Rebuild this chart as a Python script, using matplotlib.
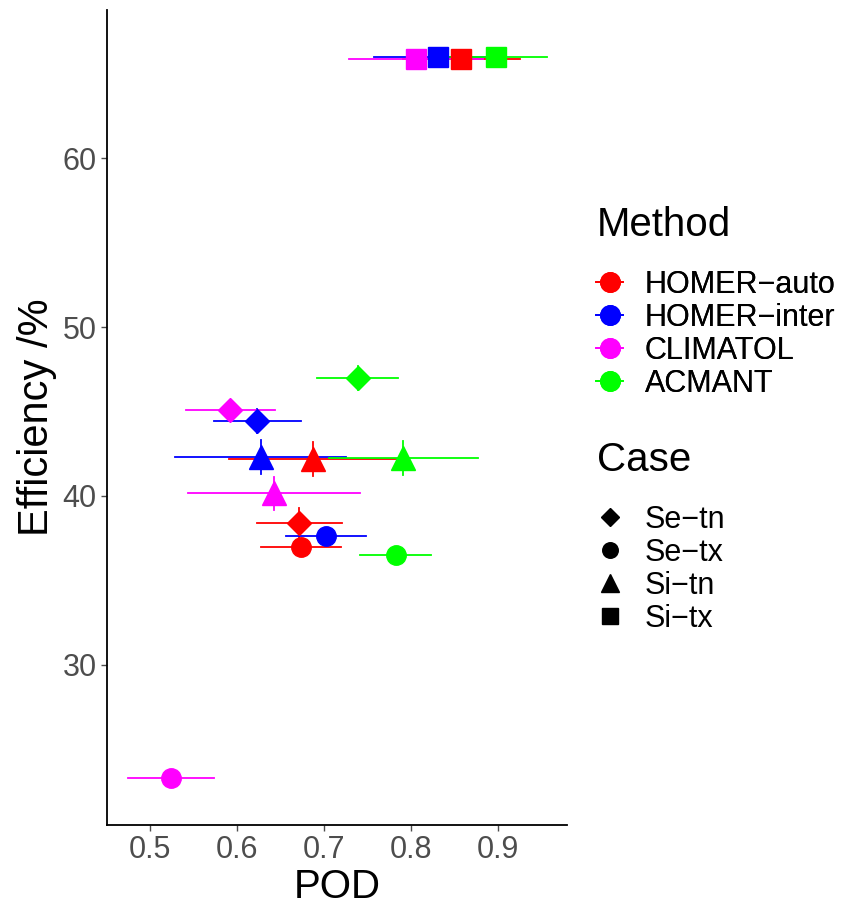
import matplotlib.pyplot as plt
from matplotlib.lines import Line2D

plt.rcParams['font.family'] = ['Liberation Sans', 'DejaVu Sans']

methods = ["HOMER-auto", "HOMER-inter", "CLIMATOL", "ACMANT"]
method_labels = ["HOMER\u2212auto", "HOMER\u2212inter", "CLIMATOL", "ACMANT"]
colors = ["#FF0000", "#0000FF", "#FF00FF", "#00FF00"]

cases = ["Se-tn", "Se-tx", "Si-tn", "Si-tx"]
case_labels = ["Se\u2212tn", "Se\u2212tx", "Si\u2212tn", "Si\u2212tx"]
markers = ["D", "o", "^", "s"]
msizes = [12, 14, 17, 14]

# per method, in case order (Se-tn, Se-tx, Si-tn, Si-tx)
pod = {
    "HOMER-auto":  [0.671, 0.673, 0.687, 0.857],
    "HOMER-inter": [0.623, 0.702, 0.627, 0.831],
    "CLIMATOL":    [0.592, 0.524, 0.642, 0.806],
    "ACMANT":      [0.739, 0.782, 0.791, 0.897],
}
pod_lo = {
    "HOMER-auto":  [0.623, 0.627, 0.591, 0.790],
    "HOMER-inter": [0.574, 0.656, 0.529, 0.757],
    "CLIMATOL":    [0.541, 0.475, 0.544, 0.729],
    "ACMANT":      [0.692, 0.741, 0.706, 0.836],
}
pod_hi = {
    "HOMER-auto":  [0.720, 0.719, 0.782, 0.925],
    "HOMER-inter": [0.673, 0.748, 0.725, 0.905],
    "CLIMATOL":    [0.643, 0.574, 0.741, 0.882],
    "ACMANT":      [0.785, 0.823, 0.877, 0.956],
}
eff = {
    "HOMER-auto":  [38.4, 36.95, 42.2, 65.9],
    "HOMER-inter": [44.45, 37.6, 42.3, 66.0],
    "CLIMATOL":    [45.1, 23.3, 40.15, 65.9],
    "ACMANT":      [47.0, 36.5, 42.25, 66.0],
}
eff_err = {
    "HOMER-auto":  [0.9, 0.4, 1.0, 0.3],
    "HOMER-inter": [0.7, 0.4, 1.0, 0.3],
    "CLIMATOL":    [0.6, 0.4, 1.0, 0.3],
    "ACMANT":      [0.7, 0.4, 1.0, 0.3],
}

fig = plt.figure(figsize=(8.52, 9.07), dpi=100)
ax = fig.add_axes([0.1256, 0.0904, 0.54, 0.8986])

# error bars first
for m, c in zip(methods, colors):
    for i in range(len(cases)):
        x = pod[m][i]
        y = eff[m][i]
        ax.plot([pod_lo[m][i], pod_hi[m][i]], [y, y], color=c, lw=1.3, zorder=2)
        ax.plot([x, x], [y - eff_err[m][i], y + eff_err[m][i]], color=c, lw=1.3, zorder=2)

for m, c in zip(methods, colors):
    for i in range(len(cases)):
        ax.plot(pod[m][i], eff[m][i], marker=markers[i], ms=msizes[i],
                color=c, mec=c, ls="none", zorder=3)

ax.set_xlim(0.4506, 0.979)
ax.set_ylim(20.5, 68.8)
ax.set_xticks([0.5, 0.6, 0.7, 0.8, 0.9])
ax.set_yticks([30, 40, 50, 60])
ax.tick_params(colors="#4D4D4D", labelsize=22, length=4, width=1)
for s in ["top", "right"]:
    ax.spines[s].set_visible(False)
for s in ["left", "bottom"]:
    ax.spines[s].set_linewidth(1.3)
    ax.spines[s].set_color("black")
ax.set_xlabel("POD", fontsize=29, labelpad=2)
ax.set_ylabel("Efficiency /%", fontsize=30, labelpad=4)

# legends: titles as separate text so the gap below them matches
fig.text(0.7007, 0.752, "Method", fontsize=29, va="center", ha="left")
mh = [Line2D([], [], color=c, marker="o", ms=14, lw=1.3) for c in colors]
leg1 = fig.legend(mh, method_labels, loc="upper left",
                  bbox_to_anchor=(0.6995, 0.7023), frameon=False, fontsize=22,
                  handlelength=0.9, handletextpad=0.7, borderpad=0,
                  labelspacing=0.1, borderaxespad=0)
fig.add_artist(leg1)

fig.text(0.7007, 0.4928, "Case", fontsize=29, va="center", ha="left")
ch = [Line2D([], [], color="black", marker=mk, ms=s * 0.8, ls="none")
      for mk, s in zip(markers, msizes)]
fig.legend(ch, case_labels, loc="upper left",
           bbox_to_anchor=(0.6995, 0.4432), frameon=False, fontsize=22,
           handlelength=0.9, handletextpad=0.7, borderpad=0,
           labelspacing=0.1, borderaxespad=0)

fig.savefig("out.png", dpi=100)
